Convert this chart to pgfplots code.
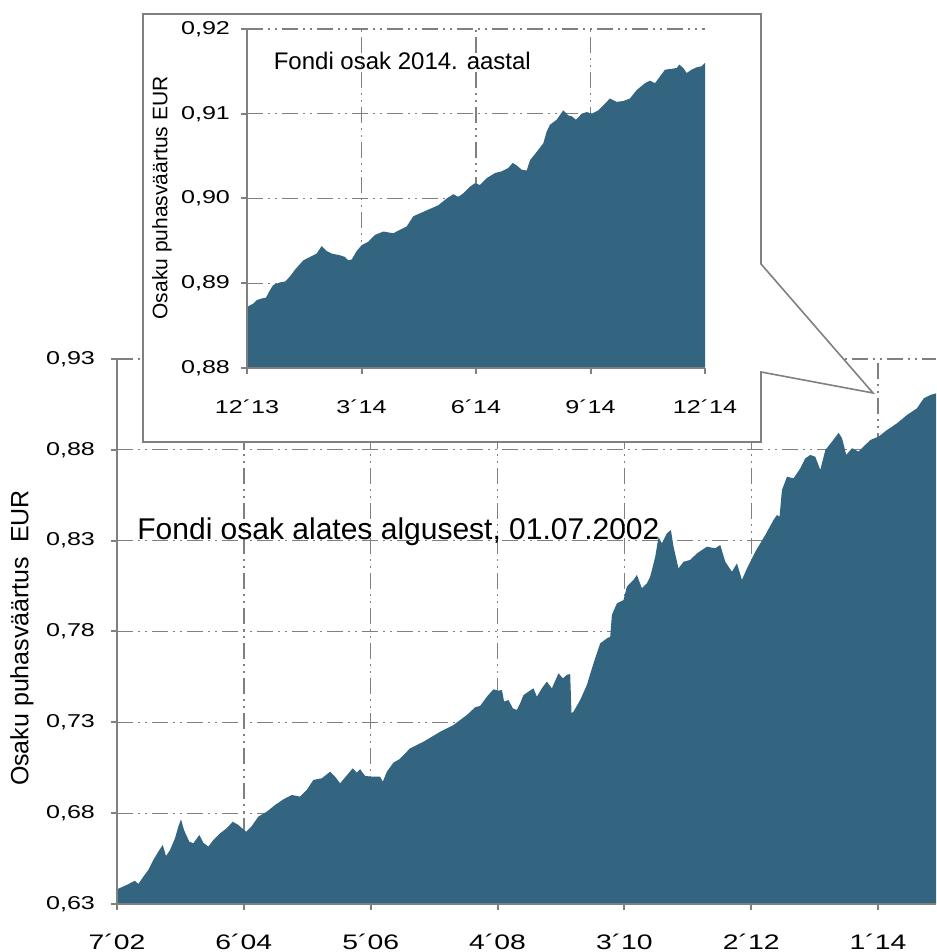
\documentclass[border=0pt]{standalone}
\usepackage{fontspec}
\setmainfont{Liberation Sans}
\newfontfamily\widefont[FakeStretch=1.35]{Liberation Sans}
\usepackage{pgfplots}
\pgfplotsset{compat=1.18}
\definecolor{areablue}{RGB}{51,101,128}
\definecolor{gridgray}{RGB}{128,128,128}
\pgfplotsset{
  mygrid/.style={gridgray, line width=0.65pt, dash pattern=on 8pt off 2.5pt on 1pt off 2.5pt on 1pt off 2.5pt},
}
\begin{document}
\begin{tikzpicture}[x=1pt,y=1pt]
\useasboundingbox (0,0) rectangle (468,476);
% ---------------- main axis ----------------
\begin{axis}[
  at={(58.5pt,24pt)}, anchor=south west,
  scale only axis, width=409.5pt, height=272.5pt,
  xmin=0, xmax=148.5, ymin=0.63, ymax=0.93,
  axis x line*=bottom, axis y line*=left,
  axis line style={-, gridgray, line width=1pt},
  xtick={0,23,46,69,92,115,138},
  xticklabels={7´02,6´04,5´06,4´08,3´10,2´12,1´14},
  ytick={0.63,0.68,0.73,0.78,0.83,0.88,0.93},
  yticklabels={{0,63},{0,68},{0,73},{0,78},{0,83},{0,88},{0,93}},
  tick align=outside, major tick length=3pt,
  tick style={gridgray, line width=1pt},
  grid=major, major grid style={mygrid},
  xticklabel style={font=\widefont\fontsize{10.5}{12}\selectfont, yshift=-8.5pt},
  yticklabel style={font=\widefont\fontsize{9.3}{11}\selectfont, xshift=-4.5pt},
  clip=true,
]
\addplot[fill=areablue, draw=none] table {
0 0.6381
1.76 0.6405
3.25 0.6428
3.86 0.6410
4.77 0.6450
5.68 0.6487
6.58 0.6542
7.49 0.6588
8.29 0.6625
8.89 0.6564
9.61 0.6597
10.52 0.6662
11.12 0.6726
11.61 0.6766
12.15 0.6707
13.11 0.6643
13.84 0.6634
14.93 0.6680
15.65 0.6637
16.56 0.6616
17.47 0.6652
18.68 0.6689
19.90 0.6717
20.99 0.6753
22.00 0.6735
23.40 0.6698
24.43 0.6729
25.63 0.6781
27.15 0.6808
28.66 0.6845
30.17 0.6876
31.69 0.6900
33.19 0.6891
34.41 0.6928
35.61 0.6983
37.13 0.6992
38.64 0.7028
39.54 0.7001
40.45 0.6964
41.36 0.6997
42.75 0.7047
43.48 0.7023
44.08 0.7042
44.98 0.7005
46.20 0.7001
47.71 0.7001
48.20 0.6973
48.92 0.7028
50.12 0.7078
51.21 0.7097
53.15 0.7157
55.56 0.7193
58.59 0.7248
61.00 0.7285
63.43 0.7340
64.94 0.7383
65.84 0.7390
67.06 0.7441
68.26 0.7482
69.16 0.7474
69.78 0.7478
70.20 0.7414
70.98 0.7423
71.78 0.7377
72.50 0.7368
73.10 0.7405
73.70 0.7450
74.61 0.7469
75.51 0.7487
76.13 0.7441
77.03 0.7487
77.94 0.7524
78.85 0.7487
80.05 0.7570
80.85 0.7542
81.57 0.7561
82.17 0.7566
82.41 0.7350
82.77 0.7359
83.98 0.7423
85.20 0.7506
86.40 0.7625
87.61 0.7735
88.83 0.7762
89.43 0.7771
89.73 0.7891
90.64 0.7955
91.84 0.7973
92.45 0.8047
93.65 0.8084
94.27 0.8111
95.17 0.8038
96.08 0.8065
96.68 0.8102
97.59 0.8212
98.19 0.8320
98.80 0.8285
99.71 0.8340
100.43 0.8359
100.91 0.8267
101.81 0.8147
102.72 0.8184
103.94 0.8194
105.15 0.8230
106.97 0.8267
108.47 0.8258
109.38 0.8276
110.29 0.8184
111.50 0.8129
112.41 0.8175
113.31 0.8084
114.22 0.8147
115.73 0.8239
117.54 0.8331
119.04 0.8414
119.66 0.8441
120.13 0.8432
120.57 0.8579
121.48 0.8652
122.67 0.8643
123.89 0.8698
124.80 0.8753
125.70 0.8772
126.61 0.8762
127.52 0.8689
128.43 0.8799
129.64 0.8845
130.84 0.8894
131.46 0.8864
132.23 0.8772
133.27 0.8809
134.46 0.8790
135.37 0.8818
136.59 0.8854
138.09 0.8873
139.61 0.8909
141.43 0.8946
143.24 0.8992
145.06 0.9029
146.26 0.9083
147.47 0.9102
148.5 0.9111
} \closedcycle;
\draw[gridgray, line width=1pt] (rel axis cs:0,0) -- (rel axis cs:1,0);
\draw[gridgray, line width=1pt] (rel axis cs:0,0) -- (rel axis cs:0,1);
\end{axis}
% ---------------- callout ----------------
\filldraw[fill=white, draw=gridgray, line width=0.8pt, line join=miter]
  (71.5,469) -- (380.5,469) -- (380.5,344) -- (436.5,279.5) -- (380.5,290)
  -- (380.5,255) -- (71.5,255) -- cycle;
% ---------------- inset axis ----------------
\begin{axis}[
  at={(123.5pt,292pt)}, anchor=south west,
  scale only axis, width=229pt, height=169.5pt,
  xmin=0, xmax=12, ymin=0.88, ymax=0.92,
  axis x line*=bottom, axis y line*=left,
  axis line style={-, gridgray, line width=1pt},
  xtick={0,3,6,9},
  xticklabels={12´13,3´14,6´14,9´14},
  extra x ticks={12},
  extra x tick labels={12´14},
  extra x tick style={grid=none},
  ytick={0.88,0.89,0.90,0.91,0.92},
  yticklabels={{0,88},{0,89},{0,90},{0,91},{0,92}},
  tick align=outside, major tick length=3pt,
  tick style={gridgray, line width=1pt},
  grid=major, major grid style={mygrid},
  xticklabel style={font=\widefont\fontsize{9.3}{11}\selectfont, yshift=-9.5pt},
  yticklabel style={font=\widefont\fontsize{9.3}{11}\selectfont, xshift=-2pt},
]
\addplot[fill=areablue, draw=none] table {
0 0.8872
0.165 0.8876
0.254 0.8880
0.385 0.8882
0.498 0.8883
0.603 0.8892
0.689 0.8898
0.865 0.8901
0.996 0.8902
1.127 0.8908
1.258 0.8916
1.475 0.8927
1.650 0.8931
1.826 0.8935
1.957 0.8944
2.088 0.8938
2.219 0.8935
2.436 0.8933
2.567 0.8931
2.654 0.8927
2.743 0.8928
2.874 0.8938
3.005 0.8945
3.178 0.8949
3.353 0.8957
3.571 0.8961
3.833 0.8959
4.184 0.8967
4.357 0.8979
4.708 0.8986
5.012 0.8992
5.232 0.9000
5.405 0.9005
5.536 0.9002
5.667 0.9006
5.842 0.9014
5.973 0.9018
6.104 0.9016
6.280 0.9024
6.497 0.9030
6.673 0.9032
6.846 0.9036
6.961 0.9042
7.066 0.9039
7.197 0.9034
7.328 0.9033
7.414 0.9045
7.590 0.9055
7.763 0.9065
7.852 0.9079
7.938 0.9087
8.114 0.9093
8.287 0.9104
8.418 0.9098
8.507 0.9097
8.619 0.9093
8.769 0.9100
8.900 0.9102
9.031 0.9100
9.204 0.9104
9.379 0.9112
9.510 0.9118
9.686 0.9114
9.858 0.9115
10.034 0.9118
10.210 0.9128
10.427 0.9136
10.558 0.9139
10.689 0.9136
10.820 0.9144
10.951 0.9152
11.127 0.9153
11.258 0.9154
11.326 0.9158
11.430 0.9154
11.519 0.9148
11.650 0.9152
11.794 0.9155
11.910 0.9156
12 0.9160
} \closedcycle;
\draw[gridgray, line width=1pt] (rel axis cs:0,0) -- (rel axis cs:1,0);
\draw[gridgray, line width=1pt] (rel axis cs:0,0) -- (rel axis cs:0,1);
\end{axis}
% ---------------- texts ----------------
\node[rotate=90, inner sep=0pt, font=\fontsize{12.5}{14}\selectfont] at (11,157) {Osaku puhasväärtus\ \ EUR};
\node[rotate=90, inner sep=0pt, font=\fontsize{10.5}{12}\selectfont] at (81,377) {Osaku puhasväärtus EUR};
\node[anchor=base west, inner sep=0pt, font=\fontsize{15}{17}\selectfont] at (68.5,206) {Fondi osak alates algusest, 01.07.2002};
\node[anchor=base west, inner sep=0pt, font=\fontsize{12}{14}\selectfont] at (136.7,441) {Fondi osak 2014. aastal};
\end{tikzpicture}
\end{document}
